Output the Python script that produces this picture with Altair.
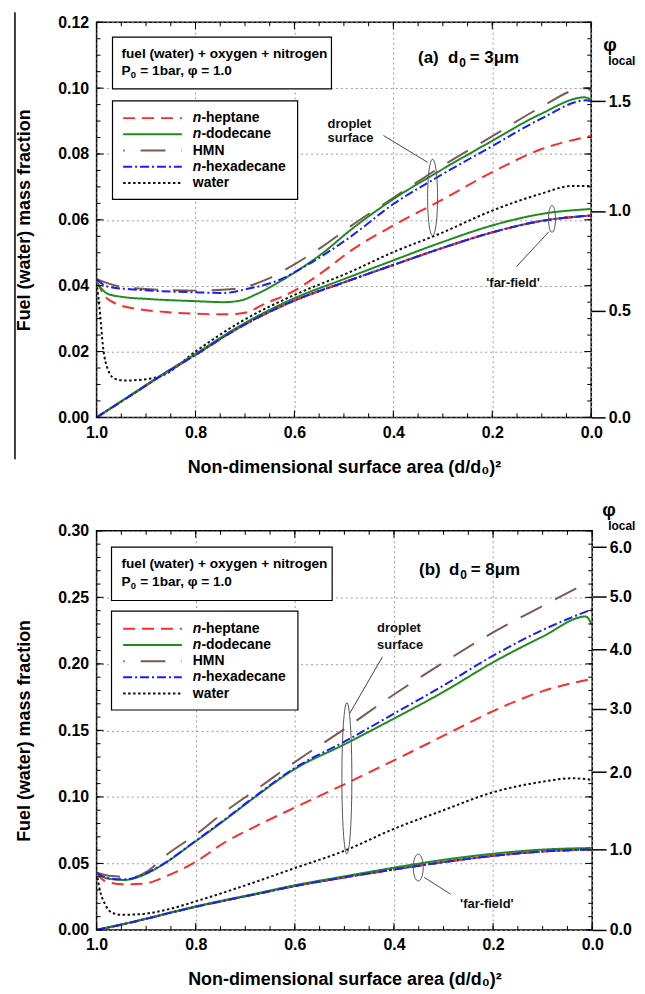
import altair as alt
import pandas as pd

FONT = "Liberation Sans"

# ---------------- series definitions ----------------
FUELS = ["n-heptane", "n-dodecane", "HMN", "n-hexadecane", "water"]
FUEL_PREFIX = ["n", "n", "", "n", ""]
FUEL_REST = ["-heptane", "-dodecane", "HMN", "-hexadecane", "water"]
COLORS = ["#ff2b2b", "#1e8c1e", "#7a5a52", "#1c1cff", "#111111"]
DASHES = [[12, 7], [1, 0], [24, 15], [9, 3, 2, 3], [2.5, 2.5]]

# ---------------- panel (a): d0 = 3 um ----------------
A_hep_x = [1.0, 0.985, 0.96, 0.92, 0.86, 0.80, 0.74, 0.70, 0.66, 0.60, 0.54, 0.49, 0.40, 0.30, 0.20, 0.10, 0.0]
A_hep_y = [0.0415, 0.0372, 0.0345, 0.0330, 0.0320, 0.0315, 0.0313, 0.0318, 0.0345, 0.0385, 0.0445, 0.0502, 0.0583, 0.0662, 0.0745, 0.0815, 0.0855]
A_dod_x = [1.0, 0.977, 0.943, 0.90, 0.80, 0.742, 0.709, 0.676, 0.60, 0.542, 0.49, 0.40, 0.306, 0.20, 0.104, 0.013, 0.0]
A_dod_y = [0.0410, 0.0375, 0.0365, 0.0360, 0.0353, 0.0350, 0.0355, 0.0375, 0.0440, 0.0500, 0.0565, 0.0663, 0.0749, 0.0840, 0.0920, 0.0972, 0.0965]
A_hex_x = [1.0, 0.977, 0.91, 0.80, 0.742, 0.696, 0.635, 0.575, 0.49, 0.40, 0.306, 0.20, 0.104, 0.01, 0.0]
A_hex_y = [0.0420, 0.0397, 0.0387, 0.0380, 0.0378, 0.0390, 0.0415, 0.0462, 0.0545, 0.0648, 0.0734, 0.0824, 0.0905, 0.0963, 0.0960]
A_hmn_x = [1.0, 0.943, 0.80, 0.722, 0.655, 0.60, 0.542, 0.487, 0.40, 0.306, 0.20, 0.104, 0.024, 0.007, 0.0]
A_hmn_y = [0.0420, 0.0395, 0.0385, 0.0390, 0.0420, 0.0465, 0.0520, 0.0580, 0.0667, 0.0759, 0.0854, 0.0940, 0.0998, 0.1000, 0.0990]
A_wat_x = [1.0, 0.993, 0.987, 0.977, 0.963, 0.943, 0.89, 0.863, 0.80, 0.709, 0.60, 0.49, 0.40, 0.306, 0.20, 0.104, 0.037, 0.0]
A_wat_y = [0.0410, 0.0315, 0.0215, 0.0145, 0.0117, 0.0112, 0.0118, 0.0130, 0.0200, 0.0290, 0.0372, 0.0440, 0.0502, 0.0558, 0.0628, 0.0678, 0.0703, 0.0703]
A_far_x = [1.0, 0.943, 0.876, 0.80, 0.709, 0.60, 0.50, 0.40, 0.30, 0.20, 0.10, 0.0]
A_far_y = [0.0, 0.0055, 0.0120, 0.0190, 0.0275, 0.0355, 0.0410, 0.0463, 0.0515, 0.0562, 0.0597, 0.0613]
A_far_dod_y = [0.0, 0.0056, 0.0122, 0.0193, 0.0279, 0.0362, 0.0420, 0.0477, 0.0533, 0.0583, 0.0618, 0.0633]

# ---------------- panel (b): d0 = 8 um ----------------
B_hep_x = [1.0, 0.983, 0.944, 0.904, 0.858, 0.80, 0.745, 0.679, 0.60, 0.50, 0.40, 0.30, 0.20, 0.10, 0.0]
B_hep_y = [0.0430, 0.0368, 0.0343, 0.0348, 0.0406, 0.0512, 0.0650, 0.0779, 0.0920, 0.1095, 0.1275, 0.1460, 0.1645, 0.1795, 0.1888]
B_dod_x = [1.0, 0.977, 0.944, 0.911, 0.877, 0.80, 0.745, 0.679, 0.60, 0.50, 0.40, 0.30, 0.20, 0.10, 0.013, 0.0]
B_dod_y = [0.0430, 0.0386, 0.0376, 0.0405, 0.0468, 0.0667, 0.0816, 0.1003, 0.1210, 0.1395, 0.1589, 0.1790, 0.2012, 0.2205, 0.2356, 0.2287]
B_hex_x = [1.0, 0.977, 0.944, 0.911, 0.877, 0.80, 0.745, 0.679, 0.60, 0.50, 0.40, 0.30, 0.20, 0.10, 0.0]
B_hex_y = [0.0430, 0.0390, 0.0380, 0.0408, 0.0470, 0.0670, 0.0820, 0.1008, 0.1218, 0.1415, 0.1626, 0.1838, 0.2062, 0.2255, 0.2411]
B_hmn_x = [1.0, 0.97, 0.924, 0.897, 0.858, 0.80, 0.745, 0.679, 0.60, 0.50, 0.40, 0.30, 0.20, 0.10, 0.023]
B_hmn_y = [0.0430, 0.0405, 0.0398, 0.0443, 0.0567, 0.0716, 0.0878, 0.1052, 0.1262, 0.1510, 0.1770, 0.2010, 0.2237, 0.2436, 0.2586]
B_wat_x = [1.0, 0.993, 0.983, 0.97, 0.95, 0.911, 0.85, 0.80, 0.70, 0.60, 0.50, 0.40, 0.30, 0.20, 0.107, 0.04, 0.0]
B_wat_y = [0.0430, 0.0294, 0.0194, 0.0132, 0.0114, 0.0119, 0.0160, 0.0215, 0.0335, 0.0465, 0.0595, 0.0760, 0.0900, 0.1035, 0.1110, 0.1140, 0.1128]
B_far_x = [1.0, 0.944, 0.80, 0.679, 0.60, 0.50, 0.40, 0.30, 0.20, 0.10, 0.0]
B_far_y = [0.0, 0.0045, 0.0174, 0.0269, 0.0330, 0.0395, 0.0455, 0.0510, 0.0557, 0.0590, 0.0605]
B_far_dod_y = [0.0, 0.0046, 0.0177, 0.0273, 0.0336, 0.0403, 0.0468, 0.0527, 0.0573, 0.0604, 0.0616]

# ---------------- axes / labels ----------------
X_MAJOR = [1.0, 0.8, 0.6, 0.4, 0.2, 0.0]
X_MINOR = [round(1.0 - 0.05 * k, 2) for k in range(21)]
A_Y_MAJOR = [0.0, 0.02, 0.04, 0.06, 0.08, 0.10, 0.12]
A_Y_MINOR = [round(0.005 * k, 3) for k in range(25)]
B_Y_MAJOR = [0.0, 0.05, 0.10, 0.15, 0.20, 0.25, 0.30]
B_Y_MINOR = [round(0.01 * k, 2) for k in range(31)]
A_PHI_LABELS = ["0.0", "0.5", "1.0", "1.5"]
A_PHI_POS = [0.0, 0.0324, 0.0627, 0.0960]
B_PHI_LABELS = ["0.0", "1.0", "2.0", "3.0", "4.0", "5.0", "6.0"]
B_PHI_POS = [0.0, 0.0604, 0.1186, 0.1662, 0.2109, 0.2507, 0.2877]

XTITLE = "Non-dimensional surface area (d/d\u2080)\u00b2"
YTITLE = "Fuel (water) mass fraction"
INFO1 = "fuel (water) + oxygen + nitrogen"
INFO2_PARTS = ["P", "0", "= 1bar, \u03c6 = 1.0"]

ONE = pd.DataFrame({"k": [0]})


def build_df(series):
    rows = []
    for fuel, loc, xs, ys in series:
        for i, (x, y) in enumerate(zip(xs, ys)):
            rows.append({"fuel": fuel, "loc": loc, "x": x, "y": y, "i": i})
    return pd.DataFrame(rows)


def text(x, y, s, size, align="left", style="normal", weight="bold", color="black"):
    return alt.Chart(ONE).mark_text(font=FONT, fontSize=size, fontWeight=weight, fontStyle=style,
                                    color=color, align=align, baseline="middle").encode(
        x=alt.value(x), y=alt.value(y), text=alt.value(s))


def panel(p):
    W, H, ymax = p["W"], p["H"], p["ymax"]
    xs = alt.Scale(domain=[1.0, 0.0], nice=False, zero=False)
    ys = alt.Scale(domain=[0.0, ymax], nice=False, zero=False)
    xaxis = alt.Axis(values=X_MAJOR, format=".1f", title=XTITLE, ticks=False, domain=False,
                     grid=True, gridDash=[2, 3], gridColor="#9a9a9a", gridWidth=1,
                     labelFont=FONT, labelFontSize=16, labelFontWeight="bold", labelColor="black",
                     labelPadding=7, labelFlush=False, labelOverlap=False,
                     titleFont=FONT, titleFontSize=18, titleFontWeight="bold", titleColor="black",
                     titlePadding=p["xtitlepad"])
    yaxis = alt.Axis(values=p["ymajor"], format=".2f", title=YTITLE, ticks=False, domain=False,
                     grid=True, gridDash=[2, 3], gridColor="#9a9a9a", gridWidth=1,
                     labelFont=FONT, labelFontSize=16, labelFontWeight="bold", labelColor="black",
                     labelPadding=8, labelFlush=False, labelOverlap=False,
                     titleFont=FONT, titleFontSize=18, titleFontWeight="bold", titleColor="black",
                     titlePadding=24)
    X = lambda f: alt.X(f"{f}:Q", scale=xs, axis=xaxis)
    Y = lambda f: alt.Y(f"{f}:Q", scale=ys, axis=yaxis)

    layers = []
    lines = alt.Chart(p["df"]).mark_line(strokeWidth=2, interpolate="monotone", clip=True).encode(
        x=X("x"), y=Y("y"),
        color=alt.Color("fuel:N", scale=alt.Scale(domain=FUELS, range=COLORS), legend=None),
        strokeDash=alt.StrokeDash("fuel:N", scale=alt.Scale(domain=FUELS, range=DASHES), legend=None),
        detail="loc:N",
        order=alt.Order("i:Q"),
    )
    layers.append(lines)

    # inward ticks on all four sides
    def xticks(vals, length):
        d = pd.DataFrame({"x": vals})
        return [alt.Chart(d).mark_rule(color="black", strokeWidth=1).encode(
            x=X("x"), y=alt.value(y0), y2=alt.value(y1)) for y0, y1 in [(H, H - length), (0, length)]]

    def yticks(vals, length):
        d = pd.DataFrame({"y": vals})
        return [alt.Chart(d).mark_rule(color="black", strokeWidth=1).encode(
            y=Y("y"), x=alt.value(x0), x2=alt.value(x1)) for x0, x1 in [(0, length), (W, W - length)]]

    layers += xticks(X_MINOR, 4) + xticks(X_MAJOR, 7)
    layers += yticks(p["yminor"], 4) + yticks(p["ymajor"], 7)

    # annotation ellipses, leader lines and texts (data coordinates)
    for (cx, cy, w, h) in p["ellipses"]:
        rx = w / h
        path = f"M0,-1A{rx:.4f},1 0 1,1 0,1A{rx:.4f},1 0 1,1 0,-1Z"
        layers.append(alt.Chart(pd.DataFrame({"x": [cx], "y": [cy]})).mark_point(
            shape=path, size=h * h, filled=False, stroke="#555555", strokeWidth=1, opacity=1).encode(
            x=X("x"), y=Y("y")))
    for (x0, y0, x1, y1) in p["leaders"]:
        layers.append(alt.Chart(pd.DataFrame({"x": [x0], "y": [y0], "x2": [x1], "y2": [y1]})).mark_rule(
            color="#444444", strokeWidth=1).encode(x=X("x"), y=Y("y"), x2="x2:Q", y2="y2:Q"))
    for (tx, ty, txt, align) in p["notes"]:
        layers.append(alt.Chart(pd.DataFrame({"x": [tx], "y": [ty], "t": [txt]})).mark_text(
            font=FONT, fontSize=13, fontWeight="bold", color="#111111", align=align, baseline="middle").encode(
            x=X("x"), y=Y("y"), text="t:N"))

    # info box and legend box (white filled)
    for (bx0, by0, bx1, by1) in [p["infobox"], p["legbox"]]:
        layers.append(alt.Chart(ONE).mark_rect(fill="white", stroke="black", strokeWidth=1.2).encode(
            x=alt.value(bx0), x2=alt.value(bx1), y=alt.value(by0), y2=alt.value(by1)))

    ix, iy1, iy2 = p["infotext"]
    layers.append(text(ix, iy1, INFO1, 13.7))
    layers.append(text(ix, iy2, INFO2_PARTS[0], 13.7))
    layers.append(text(ix + 9.4, iy2 + 4, INFO2_PARTS[1], 9.5))
    layers.append(text(ix + 19, iy2, INFO2_PARTS[2], 13.7))

    # legend entries
    sx0, sx1, lx = p["legx"]
    for k, fuel in enumerate(FUELS):
        ry = p["legy"][k]
        is_hmn = fuel == "HMN"
        layers.append(alt.Chart(ONE).mark_rule(strokeWidth=2, strokeDashOffset=23.5 if is_hmn else 0).encode(
            x=alt.value(sx0), x2=alt.value(sx1), y=alt.value(ry),
            color=alt.value(COLORS[k]), strokeDash=alt.value([25, 16] if is_hmn else DASHES[k])))
        if FUEL_PREFIX[k]:
            layers.append(text(lx, ry, FUEL_PREFIX[k], 14, style="italic"))
            layers.append(text(lx + 8.6, ry, FUEL_REST[k], 14))
        else:
            layers.append(text(lx, ry, FUEL_REST[k], 14))

    # panel label "(a)  d0 = 3um" with subscript
    tx, ty, t0, t2 = p["title"]
    layers.append(text(tx, ty, t0, 17))
    layers.append(text(tx + 30, ty, "d", 17))
    layers.append(text(tx + 41.5, ty + 5, "0", 12))
    layers.append(text(tx + 52, ty, t2, 17))

    # phi_local title of the right axis
    (px, py), (qx, qy) = p["phi"]
    layers.append(text(px, py, "\u03c6", 19))
    layers.append(text(qx, qy, "local", 12))

    # figure edge line
    if p.get("edge"):
        ex, ey0, ey1 = p["edge"]
        layers.append(alt.Chart(ONE).mark_rule(color="black", strokeWidth=1.5).encode(
            x=alt.value(ex), y=alt.value(ey0), y2=alt.value(ey1)))

    inner = alt.layer(*layers)

    # right axis: local equivalence ratio
    expr = " : ".join(f"abs(datum.value - {v}) < 1e-6 ? '{l}'" for v, l in zip(p["phipos"], p["philab"])) + " : ''"
    right = alt.Chart(pd.DataFrame({"y": p["phipos"]})).mark_rule(opacity=0).encode(
        y=alt.Y("y:Q", scale=alt.Scale(domain=[0.0, ymax], nice=False, zero=False),
                axis=alt.Axis(orient="right", values=p["phipos"], labelExpr=expr, title=None, grid=False,
                              ticks=True, tickSize=14, tickWidth=1.5, tickColor="black", domain=False,
                              labelFont=FONT, labelFontSize=16, labelFontWeight="bold", labelColor="black",
                              labelPadding=3, labelFlush=False, labelOverlap=False)))

    return alt.layer(inner, right).resolve_scale(y="independent").properties(width=W, height=H)


A_df = build_df([
    ("water", "surface", A_wat_x, A_wat_y),
    ("water", "far", A_far_x, A_far_y),
    ("HMN", "surface", A_hmn_x, A_hmn_y),
    ("HMN", "far", A_far_x, A_far_y),
    ("n-heptane", "surface", A_hep_x, A_hep_y),
    ("n-heptane", "far", A_far_x, A_far_y),
    ("n-dodecane", "surface", A_dod_x, A_dod_y),
    ("n-dodecane", "far", A_far_x, A_far_dod_y),
    ("n-hexadecane", "surface", A_hex_x, A_hex_y),
    ("n-hexadecane", "far", A_far_x, A_far_y),
])
B_df = build_df([
    ("water", "surface", B_wat_x, B_wat_y),
    ("water", "far", B_far_x, B_far_y),
    ("HMN", "surface", B_hmn_x, B_hmn_y),
    ("HMN", "far", B_far_x, B_far_y),
    ("n-heptane", "surface", B_hep_x, B_hep_y),
    ("n-heptane", "far", B_far_x, B_far_y),
    ("n-dodecane", "surface", B_dod_x, B_dod_y),
    ("n-dodecane", "far", B_far_x, B_far_dod_y),
    ("n-hexadecane", "surface", B_hex_x, B_hex_y),
    ("n-hexadecane", "far", B_far_x, B_far_y),
])

top = panel({
    "W": 497, "H": 397, "ymax": 0.12, "df": A_df, "xtitlepad": 18,
    "ymajor": A_Y_MAJOR, "yminor": A_Y_MINOR,
    "phipos": A_PHI_POS, "philab": A_PHI_LABELS,
    "ellipses": [(0.3207, 0.0668, 10, 77), (0.0793, 0.0603, 7, 27)],
    "leaders": [(0.420, 0.0856, 0.331, 0.0775), (0.0855, 0.0564, 0.151, 0.0458)],
    "notes": [(0.533, 0.0892, "droplet", "left"), (0.533, 0.0847, "surface", "left"),
              (0.158, 0.0409, "'far-field'", "center")],
    "infobox": (16, 15, 236, 67), "legbox": (16, 79, 202, 178),
    "infotext": (25, 31.7, 49),
    "legx": (26.7, 85.7, 96.7), "legy": [96.3, 112.6, 128.9, 145.2, 161.5],
    "title": (323, 35.7, "(a)", "= 3\u03bcm"),
    "phi": ((509, 23), (514, 39)),
    "edge": (-82, -10, 439),
})

bottom = panel({
    "W": 498, "H": 401, "ymax": 0.30, "df": B_df, "xtitlepad": 18,
    "ymajor": B_Y_MAJOR, "yminor": B_Y_MINOR,
    "phipos": B_PHI_POS, "philab": B_PHI_LABELS,
    "ellipses": [(0.495, 0.114, 10, 152), (0.351, 0.0469, 10, 27)],
    "leaders": [(0.489, 0.163, 0.423, 0.2054), (0.339, 0.0395, 0.286, 0.027)],
    "notes": [(0.434, 0.2266, "droplet", "left"), (0.434, 0.2141, "surface", "left"),
              (0.2126, 0.0195, "'far-field'", "center")],
    "infobox": (15, 16.3, 236.7, 70), "legbox": (15, 80.7, 202.3, 180),
    "infotext": (25, 33, 51.3),
    "legx": (26.7, 85.7, 96.7), "legy": [98.3, 114.6, 130.9, 147.2, 163.5],
    "title": (324, 39, "(b)", "= 8\u03bcm"),
    "phi": ((508, -21), (514, -5)),
})

chart = alt.vconcat(top, bottom, spacing=23).properties(
    padding={"left": 5, "top": 0, "right": 0, "bottom": 0}
).configure_view(stroke="black", strokeWidth=1.5)

chart.save("out.html", embed_options={"renderer": "svg", "actions": False})
